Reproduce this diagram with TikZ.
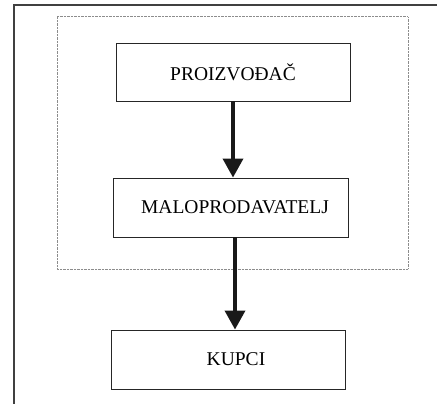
\documentclass[tikz,border=0pt]{standalone}
\usepackage{fontspec}
\setmainfont{Liberation Serif}
\usetikzlibrary{arrows.meta}
\tikzset{
    chainbox/.style={draw=black!85, line width=0.9pt, minimum width=234pt, minimum height=58pt, inner sep=0pt, font=\fontsize{19.5}{22}\selectfont},
    flowarrow/.style={line width=3.6pt, black!90, -{Triangle[width=20pt, length=19pt]}}
}
\begin{document}
\begin{tikzpicture}[x=1pt, y=-1pt]
    \useasboundingbox (0, 0) rectangle (437, 404);

    % Frame and channel border
    \draw[black!75, line width=1.6pt] (14, 404) -- (14, 5) -- (437, 5);
    \draw[gray!90, dash pattern=on 0.8pt off 0.6pt, line width=1pt] (57, 17) rectangle (408, 269);

    % Members of the channel
    \node[chainbox] (proizvodjac) at (233, 72) {PROIZVOĐAČ};
    \node[chainbox, minimum width=235pt, minimum height=59pt] (maloprodavatelj) at (230.5, 207.5) {\hspace{9pt}MALOPRODAVATELJ};
    \node[chainbox, minimum height=59pt] (kupci) at (228, 359.5) {\hspace{16pt}KUPCI};

    % Flow
    \draw[flowarrow] (proizvodjac.south) -- (proizvodjac.south |- maloprodavatelj.north);
    \draw[flowarrow] ([xshift=4.5pt]maloprodavatelj.south) -- ([xshift=4.5pt]maloprodavatelj.south |- kupci.north);

\end{tikzpicture}
\end{document}
